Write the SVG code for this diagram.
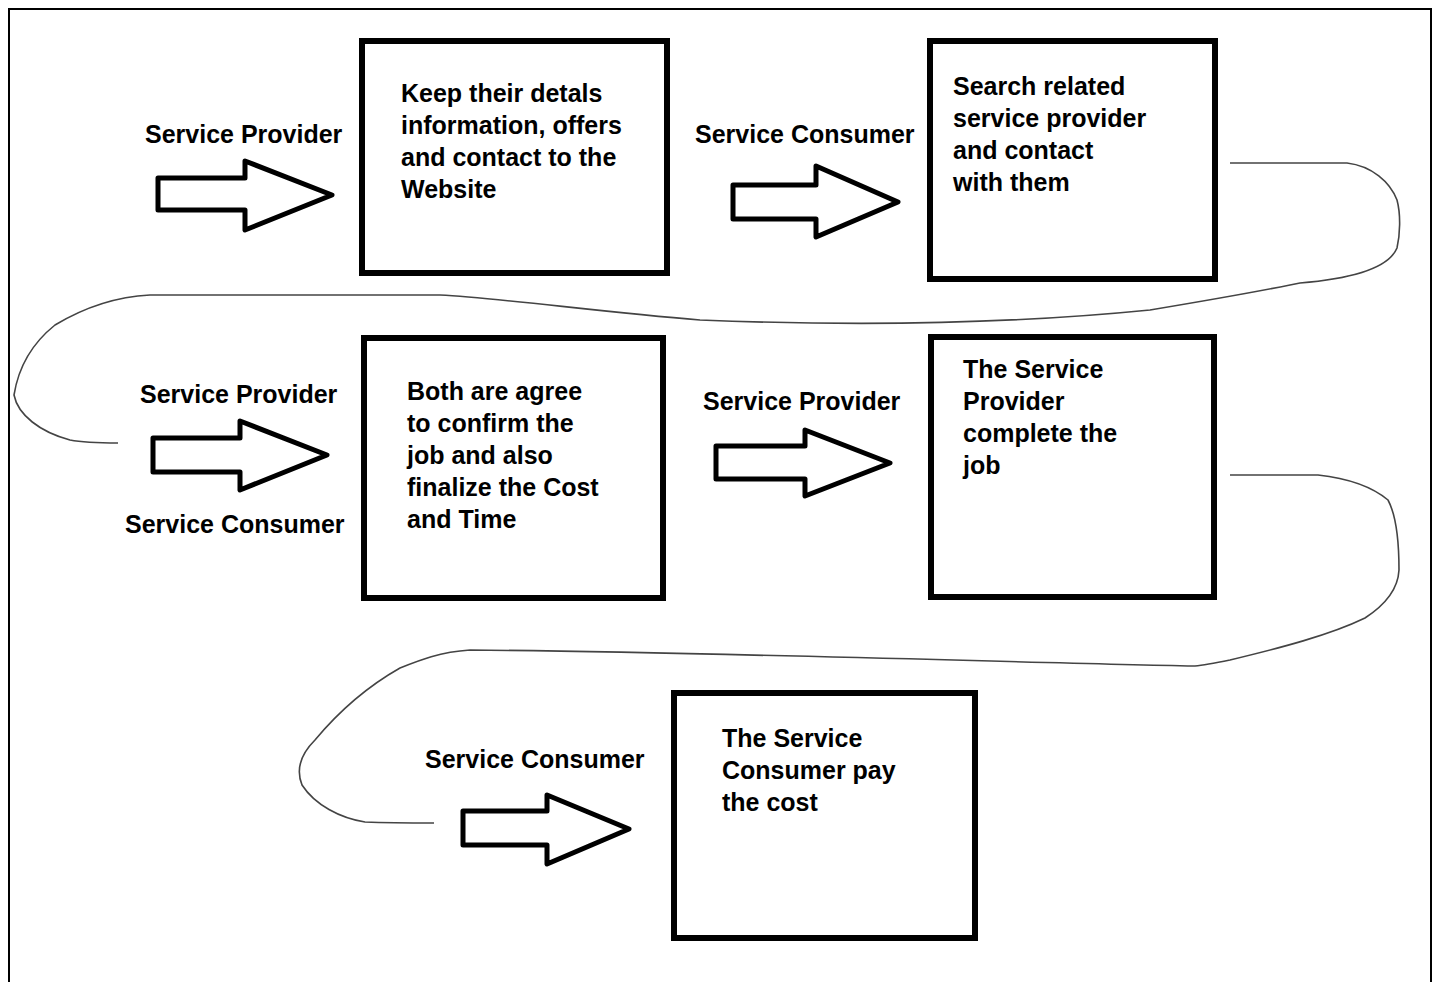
<svg xmlns="http://www.w3.org/2000/svg" width="1439" height="982" viewBox="0 0 1439 982">
<style>
.t{font-family:"Liberation Sans",Arial,sans-serif;font-weight:bold;font-size:25px;fill:#000}
.box{fill:#fff;stroke:#000;stroke-width:6}
.arr{fill:#fff;stroke:#000;stroke-width:5;stroke-linejoin:round}
.cur{fill:none;stroke:#444;stroke-width:1.6;stroke-linejoin:round}
</style>
<rect x="0" y="0" width="1439" height="982" fill="#fff"/>
<path d="M9,982 V9 H1431 V982" fill="none" stroke="#000" stroke-width="2"/>
<g id="connectors">
<path class="cur" d="M1230,163 H1347 C1372,166 1390,182 1397,200 C1401,215 1400,235 1397,248 C1390,265 1360,278 1300,283 L1290,285 C1250,293 1210,300 1150,310 C1000,325 850,326 700,320 C600,312 500,298 440,295 H150 C110,297 80,310 55,325 C30,345 18,370 14,395 C18,415 40,432 70,440 C85,443 100,443 118,443"/>
<path class="cur" d="M1230,475 H1318 C1345,478 1370,485 1388,500 C1396,515 1399,540 1399,570 C1398,590 1385,605 1365,618 C1330,635 1280,648 1230,660 C1215,663 1205,665 1195,666 C1000,662 700,652 470,650 C440,652 420,660 400,668 C370,685 340,710 315,740 C300,755 296,770 302,785 C315,805 340,818 365,822 C390,823 415,823 434,823"/>
<polygon class="arr" points="158,178 245,178 245,161 332,195 245,230 245,210 158,210"/>
<polygon class="arr" points="733,185 816,185 816,166 898,202 816,237 816,219 733,219"/>
<polygon class="arr" points="153,438 240,438 240,421 327,455 240,490 240,472 153,472"/>
<polygon class="arr" points="716,446 805,446 805,430 890,463 805,496 805,479 716,479"/>
<polygon class="arr" points="463,811 547,811 547,795 629,829 547,864 547,845 463,845"/>
<text class="t" x="145" y="143">Service Provider</text>
<text class="t" x="695" y="143">Service Consumer</text>
<text class="t" x="140" y="403">Service Provider</text>
<text class="t" x="125" y="533">Service Consumer</text>
<text class="t" x="703" y="410">Service Provider</text>
<text class="t" x="425" y="768">Service Consumer</text>
</g>
<g id="node1">
<rect class="box" x="362" y="41" width="305" height="232"/>
<text class="t"><tspan x="401" y="102">Keep their detals</tspan><tspan x="401" y="134">information, offers</tspan><tspan x="401" y="166">and contact to the</tspan><tspan x="401" y="198">Website</tspan></text>
</g>
<g id="node2">
<rect class="box" x="930" y="41" width="285" height="238"/>
<text class="t"><tspan x="953" y="95">Search related</tspan><tspan x="953" y="127">service provider</tspan><tspan x="953" y="159">and contact</tspan><tspan x="953" y="191">with them</tspan></text>
</g>
<g id="node3">
<rect class="box" x="364" y="338" width="299" height="260"/>
<text class="t"><tspan x="407" y="400">Both are agree</tspan><tspan x="407" y="432">to confirm the</tspan><tspan x="407" y="464">job and also</tspan><tspan x="407" y="496">finalize the Cost</tspan><tspan x="407" y="528">and Time</tspan></text>
</g>
<g id="node4">
<rect class="box" x="931" y="337" width="283" height="260"/>
<text class="t"><tspan x="963" y="378">The Service</tspan><tspan x="963" y="410">Provider</tspan><tspan x="963" y="442">complete the</tspan><tspan x="963" y="474">job</tspan></text>
</g>
<g id="node5">
<rect class="box" x="674" y="693" width="301" height="245"/>
<text class="t"><tspan x="722" y="747">The Service</tspan><tspan x="722" y="779">Consumer pay</tspan><tspan x="722" y="811">the cost</tspan></text>
</g>
</svg>
